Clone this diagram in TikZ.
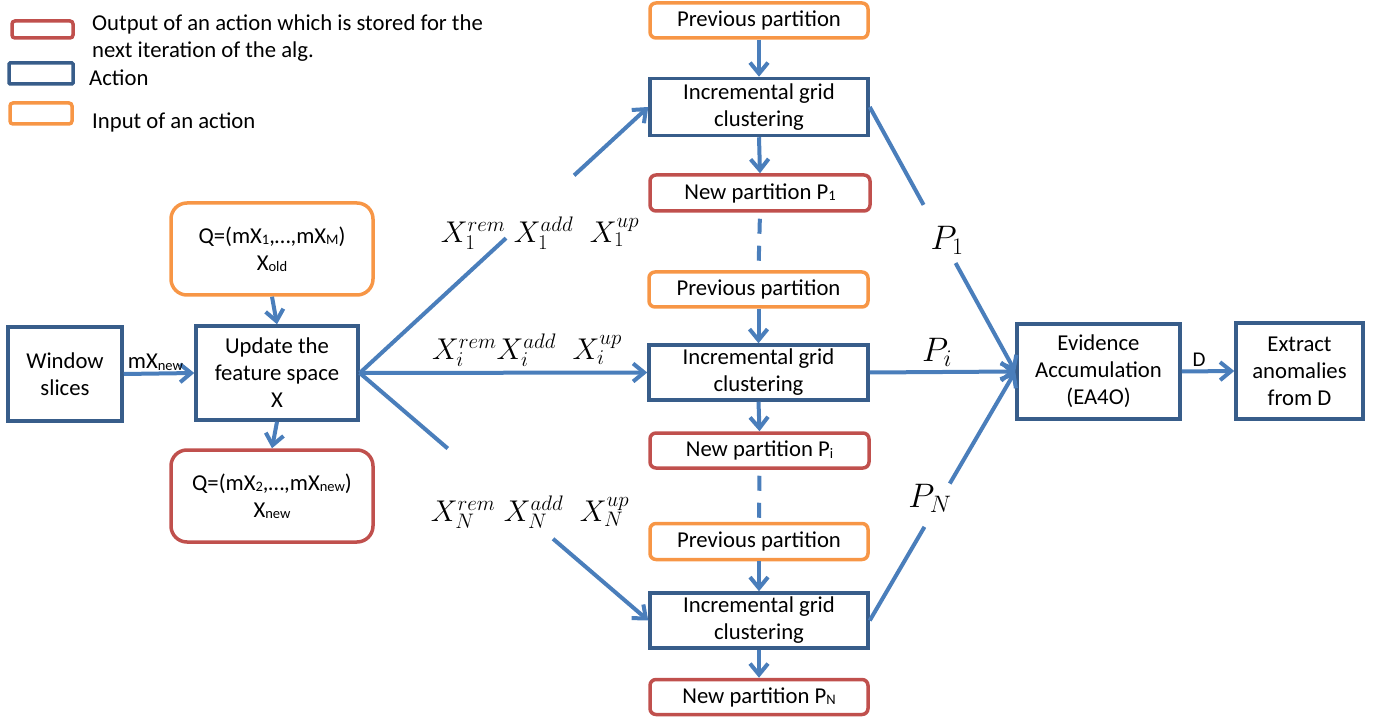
\documentclass[tikz,border=0pt]{standalone}
\usepackage{fix-cm}
\usepackage{fontspec}
\setmainfont{Carlito}
\usetikzlibrary{arrows.meta,calc}
\definecolor{lineblue}{RGB}{74,126,187}
\definecolor{actblue}{RGB}{56,93,138}
\definecolor{outred}{RGB}{192,80,77}
\definecolor{inorange}{RGB}{247,150,70}
\newcommand\lowsub[1]{\raisebox{-1.5pt}{\fontsize{14.5}{14.5}\selectfont #1}}
\begin{document}
\begin{tikzpicture}[x=1pt,y=-1pt,
  basebox/.style={draw, line width=3.5pt, inner sep=0pt, align=center, font=\fontsize{22.7}{27}\selectfont},
  action/.style={basebox, draw=actblue},
  output/.style={basebox, draw=outred, rounded corners=6pt},
  input/.style={basebox, draw=inorange, rounded corners=6pt},
  legbox/.style={draw, line width=3.5pt, rounded corners=3pt, inner sep=0pt},
  legtext/.style={anchor=west, align=left, inner sep=0pt, font=\fontsize{22.7}{27}\selectfont},
  link/.style={draw=lineblue, line width=4pt},
  flow/.style={link, -{Straight Barb[length=11pt,width=18pt]}},
  mlabel/.style={inner sep=0pt, font=\fontsize{30}{34}\selectfont},
  plabel/.style={inner sep=0pt, font=\fontsize{34}{38}\selectfont},
  dashlink/.style={link, dash pattern=on 15pt off 12pt, dash phase=21pt}
]
\useasboundingbox (0,0) rectangle (1374,719);
% legend
\node[legbox, draw=outred, minimum width=61pt, minimum height=17pt] (lgout) at (42.5,29.5) {};
\node[legbox, draw=actblue, rounded corners=1pt, minimum width=64pt, minimum height=21pt] (lgact) at (41,73.5) {};
\node[legbox, draw=inorange, minimum width=62pt, minimum height=21pt] (lgin) at (41,113.5) {};
\node[legtext] (ltout) at (92,38.5) {Output of an action which is stored for the\\next iteration of the alg.};
\node[legtext] (ltact) at (89,78) {Action};
\node[legtext] (ltin) at (92,122) {Input of an action};

% left part
\node[action, minimum width=114pt, minimum height=94pt] (win) at (65,374) {Window\\slices};
\node[action, minimum width=162pt, minimum height=94pt] (upd) at (277,373) {Update the\\feature space\\X};
\node[basebox, draw=inorange, rounded corners=16pt, minimum width=202pt, minimum height=92pt] (qold) at (272,249)
  {Q=(mX\lowsub{1},…,mX\lowsub{M})\\X\lowsub{old}};
\node[basebox, draw=outred, rounded corners=16pt, minimum width=202pt, minimum height=92pt] (qnew) at (272,496)
  {Q=(mX\lowsub{2},…,mX\lowsub{new})\\X\lowsub{new}};
\draw[flow] (win.east) -- node[pos=0.45, above=1pt, inner sep=0pt, font=\fontsize{22.7}{27}\selectfont] (mxlab) {mX\lowsub{new}} (upd.west);
\draw[flow] (qold.south) -- (upd.north);
\draw[flow] (upd.south) -- (qnew.north);

% middle column
\node[input, minimum width=218pt, minimum height=35pt] (prev1) at (759,20.5) {Previous partition};
\node[action, minimum width=218pt, minimum height=57pt] (inc1) at (759,107) {Incremental grid\\clustering};
\node[output, minimum width=220pt, minimum height=36pt] (new1) at (760,193) {New partition P\lowsub{1}};
\node[input, minimum width=219pt, minimum height=35pt] (prev2) at (758.5,289.5) {Previous partition};
\node[action, minimum width=219pt, minimum height=55pt] (inc2) at (758.5,372.5) {Incremental grid\\clustering};
\node[output, minimum width=219pt, minimum height=35pt] (new2) at (759.5,450.5) {New partition P\lowsub{i}};
\node[input, minimum width=218pt, minimum height=36pt] (prev3) at (759,541.5) {Previous partition};
\node[action, minimum width=218pt, minimum height=55pt] (inc3) at (759,620.5) {Incremental grid\\clustering};
\node[output, minimum width=218pt, minimum height=35pt] (new3) at (759,697) {New partition P\lowsub{N}};
\foreach \a/\b in {prev1/inc1,inc1/new1,prev2/inc2,inc2/new2,prev3/inc3,inc3/new3}
  \draw[flow] (\a.south) -- (\b.north);
\draw[dashlink] (new1.south) -- (prev2.north);
\draw[dashlink] (new2.south) -- (prev3.north);

% right part
\node[action, minimum width=163pt, minimum height=95pt] (evid) at (1098.5,371.5) {Evidence\\Accumulation\\(EA4O)};
\node[action, minimum width=127pt, minimum height=96pt] (extr) at (1299.5,371) {Extract\\anomalies\\from D};
\draw[flow] (evid.east) -- node[pos=0.33, above=3pt, inner sep=0pt, font=\fontsize{21}{24}\selectfont] (dlab) {D} (extr.west);

% fan-out from update
\draw[link] (upd.east) -- ($(upd.east)!0.507!(inc1.west)$);
\draw[flow] ($(upd.east)!0.743!(inc1.west)$) -- (inc1.west);
\draw[flow] (upd.east) -- (inc2.west);
\draw[link] (upd.east) -- ($(upd.east)!0.305!(inc3.west)$);
\draw[flow] ($(upd.east)!0.67!(inc3.west)$) -- (inc3.west);
\node[mlabel] (x1) at (540,233) {$X_1^{rem}\;X_1^{add}\;\;X_1^{up}$};
\node[mlabel] (xi) at (527,350) {$X_i^{rem}X_i^{add}\;\;X_i^{up}$};
\node[mlabel] (xn) at (530,512) {$X_N^{rem}\;X_N^{add}\;\;X_N^{up}$};

% fan-in to evidence
\draw[link] (inc1.east) -- ($(inc1.east)!0.37!(evid.west)$);
\draw[flow] ($(inc1.east)!0.59!(evid.west)$) -- (evid.west);
\draw[flow] (inc2.east) -- (evid.west);
\draw[link] (inc3.east) -- ($(inc3.east)!0.376!(evid.west)$);
\draw[flow] ($(inc3.east)!0.55!(evid.west)$) -- (evid.west);
\node[plabel] (p1) at (947,240) {$P_1$};
\node[plabel] (pi) at (937,352) {$P_i$};
\node[plabel] (pn) at (930,498) {$P_N$};
\end{tikzpicture}
\end{document}
